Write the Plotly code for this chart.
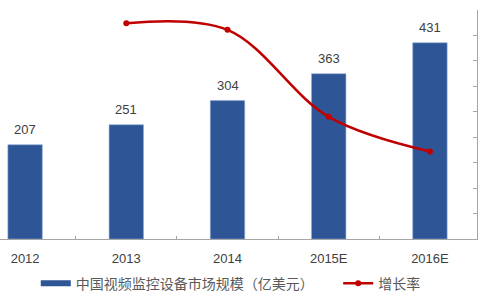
import plotly.graph_objects as go

categories = ["2012", "2013", "2014", "2015E", "2016E"]
market_size = [207, 251, 304, 363, 431]
growth_rate = [None, 42.4, 41.1, 24.0, 17.2]
bar_name = "中国视频监控设备市场规模（亿美元）"
line_name = "增长率"

BLUE = "#2E5596"
RED = "#C00000"
TXT = "#404040"

fig = go.Figure()
fig.add_trace(go.Bar(
    x=categories, y=market_size, name=bar_name, showlegend=False,
    marker=dict(color=BLUE, line=dict(color="#8FA8D8", width=0.6)),
    width=0.34,
))
fig.add_trace(go.Scatter(
    x=[None], y=[None], mode="lines", name=bar_name,
    line=dict(color=BLUE, width=6), showlegend=True, legend="legend",
))
fig.add_trace(go.Scatter(
    x=categories, y=growth_rate, name=line_name, yaxis="y2", legend="legend2",
    mode="lines+markers", line=dict(color=RED, width=2.5, shape="spline", smoothing=1.0),
    marker=dict(color=RED, size=6), connectgaps=False,
))

for i, v in enumerate(market_size):
    fig.add_annotation(
        x=i, y=v, text=str(v), showarrow=False, yanchor="bottom", yshift=6,
        font=dict(size=13, color=TXT, family="Liberation Sans, Arial"),
    )

legend_common = dict(
    orientation="h", y=-0.195, yanchor="middle", xanchor="left",
    font=dict(size=14, color="#595959", family="Noto Sans CJK SC"),
    itemwidth=30, bgcolor="rgba(0,0,0,0)",
)

fig.update_layout(
    width=480, height=300,
    margin=dict(l=0, r=3, t=10, b=59),
    paper_bgcolor="white", plot_bgcolor="white",
    xaxis=dict(
        type="category", range=[-0.248, 4.465],
        showline=True, linecolor="#A6A6A6", linewidth=1,
        ticks="inside", ticklen=3, tickcolor="#A6A6A6", tickson="boundaries",
        tickfont=dict(size=13, color=TXT, family="Liberation Sans, Arial"),
        ticklabelstandoff=7,
        showgrid=False,
    ),
    yaxis=dict(range=[0, 503], visible=False, showgrid=False),
    yaxis2=dict(
        overlaying="y", side="right", range=[0, 45], dtick=5,
        showline=True, linecolor="#A6A6A6", linewidth=1,
        ticks="inside", ticklen=4, tickcolor="#A6A6A6",
        showticklabels=False, showgrid=False, zeroline=False,
    ),
    legend=dict(x=0.075, **legend_common),
    legend2=dict(x=0.709, **legend_common),
)

fig.write_html("out.html")
